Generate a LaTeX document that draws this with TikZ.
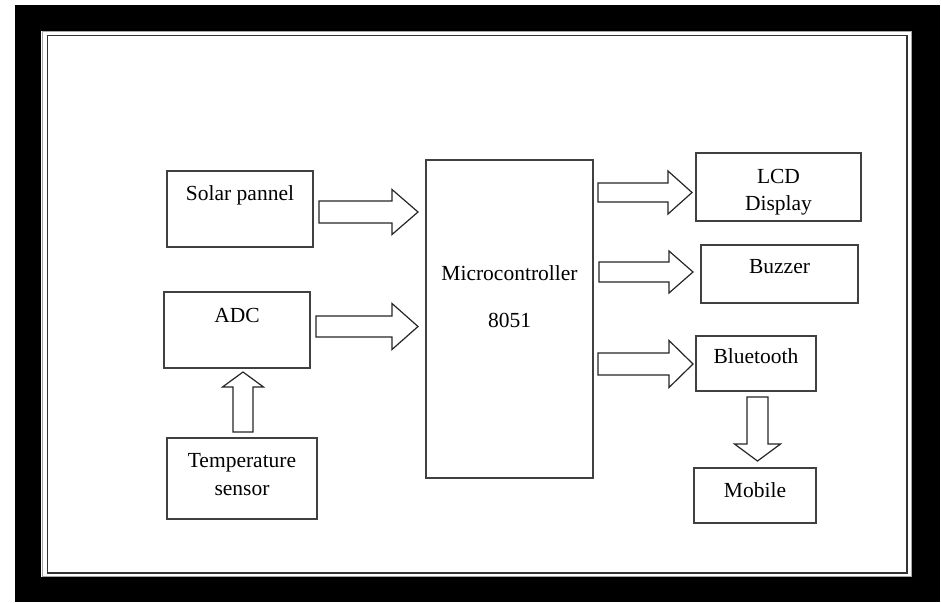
\documentclass[tikz,border=0pt]{standalone}
\usepackage{fontspec}
\setmainfont{Liberation Serif}
\begin{document}
\begin{tikzpicture}[x=1pt,y=-1pt,
  box/.style={draw=black!75,line width=1.3pt,fill=white,inner sep=0pt,outer sep=0pt,anchor=north west},
  lbl/.style={anchor=base,inner sep=0pt,font=\fontsize{21.5}{26}\selectfont},
  blk/.style={draw=black!85,line width=1.2pt,fill=white,line join=miter}]
\useasboundingbox (0,0) rectangle (941,602);
% frame
\fill[black] (15,5) rectangle (940,602);
\fill[white] (41,31) rectangle (912,577);
\draw[black!35,line width=1pt] (42,32) rectangle (911,576);
\draw[black!80,line width=1.3pt] (47.5,35.5) rectangle (907,573);
% boxes
\newcommand\bx[5]{\node[box,minimum width={#4-#2},minimum height={#5-#3}] (#1) at (#2,#3) {};}
\bx{solar}{167}{171}{313}{247}
\bx{adc}{164}{292}{310}{368}
\bx{temp}{167}{438}{317}{519}
\bx{micro}{426}{160}{593}{478}
\bx{lcd}{696}{153}{861}{221}
\bx{buzzer}{701}{245}{858}{303}
\bx{bt}{696}{336}{816}{391}
\bx{mobile}{694}{468}{816}{523}
% labels
\node[lbl] (solart) at (240,200) {Solar pannel};
\node[lbl] (adct) at (237,322) {ADC};
\node[lbl] (tempt1) at (242,467) {Temperature};
\node[lbl] (tempt2) at (242,495) {sensor};
\node[lbl] (microt1) at (509.5,280) {Microcontroller};
\node[lbl] (microt2) at (509.5,327) {8051};
\node[lbl] (lcdt1) at (778.5,183) {LCD};
\node[lbl] (lcdt2) at (778.5,210) {Display};
\node[lbl] (buzzert) at (779.5,273) {Buzzer};
\node[lbl] (btt) at (756,363) {Bluetooth};
\node[lbl] (mobilet) at (755,497) {Mobile};
% block arrows: shaft start x, head x, tip x, centre y, shaft half, head half
\newcommand\harr[6]{\draw[blk] ({#1},{#4-#5}) -- ({#2},{#4-#5}) -- ({#2},{#4-#6}) -- ({#3},{#4}) -- ({#2},{#4+#6}) -- ({#2},{#4+#5}) -- ({#1},{#4+#5}) -- cycle;}
\newcommand\varr[6]{\draw[blk] ({#4-#5},{#1}) -- ({#4-#5},{#2}) -- ({#4-#6},{#2}) -- ({#4},{#3}) -- ({#4+#6},{#2}) -- ({#4+#5},{#2}) -- ({#4+#5},{#1}) -- cycle;}
\harr{319}{392}{418}{212}{11}{22.5}
\harr{316}{392}{418}{326.5}{10.5}{23}
\harr{598}{668}{692}{192.5}{9.5}{21.5}
\harr{599}{669}{693}{272}{10}{21}
\harr{598}{669}{693}{364}{11}{23.5}
\varr{397}{444}{461}{757.5}{10.5}{23}
\varr{432}{387}{372}{243}{10}{20.5}
\end{tikzpicture}
\end{document}
